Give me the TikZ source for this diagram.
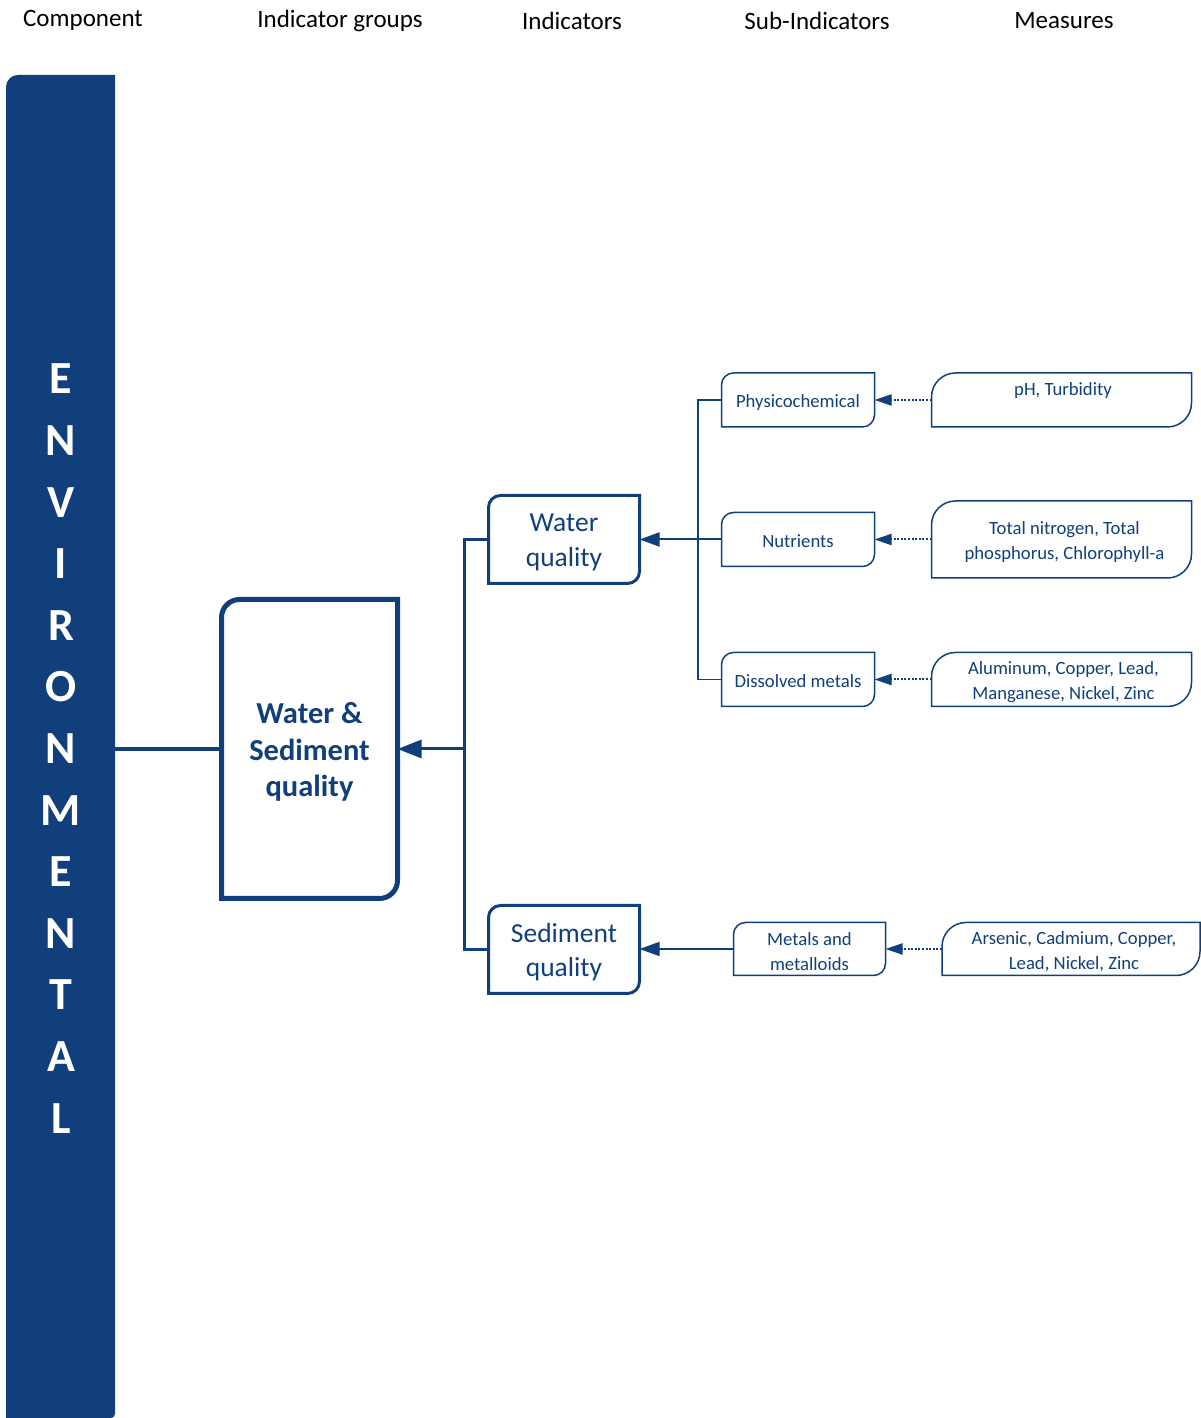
\documentclass[tikz,border=0pt]{standalone}
\usepackage{fontspec}
\setmainfont{Carlito}
\usetikzlibrary{arrows.meta,calc}
\definecolor{navy}{HTML}{103F7B}
\newcommand\diagframe[3]{%
  \draw[#3] (#1.south west) -- ([yshift=-#2pt]#1.north west) arc[start angle=180,end angle=90,radius=#2pt] -- (#1.north east) -- ([yshift=#2pt]#1.south east) arc[start angle=0,end angle=-90,radius=#2pt] -- cycle;}
\tikzset{
  frame/.style={draw=none,inner sep=0pt,outer sep=0pt},
  txt/.style={inner sep=0pt,outer sep=0pt,text=navy,align=center},
  hdr/.style={font=\fontsize{25}{30}\selectfont,text=black},
  bigtxt/.style={txt,font=\fontsize{30.5}{36.5}\bfseries\selectfont},
  midtxt/.style={txt,font=\fontsize{27.5}{34.5}\selectfont},
  smalltxt/.style={txt,font=\fontsize{18.7}{25}\selectfont},
  bigarrow/.style={-{Triangle[length=24pt,width=18pt]}},
  midarrow/.style={-{Triangle[length=20pt,width=14pt]}},
  smallarrow/.style={-{Triangle[length=17pt,width=11pt]}},
  dotline/.style={draw=navy,line width=2pt,dash pattern=on 2pt off 1.6pt,smallarrow},
}
\begin{document}
\begin{tikzpicture}[x=1pt,y=1pt]
\useasboundingbox (0,0) rectangle (1200,1418);
% headers
\node[hdr] (h1) at (83,1397.5) {Component};
\node[hdr] (h2) at (340,1397.5) {Indicator groups};
\node[hdr] (h3) at (572,1397.5) {Indicators};
\node[hdr] (h4) at (817,1397.5) {Sub-Indicators};
\node[hdr] (h5) at (1064,1397.5) {Measures};
% component bar
\node[frame,minimum width=109,minimum height=1343] (bar) at (60.5,671.5) {};
\fill[navy] (bar.south west) -- ([yshift=-12pt]bar.north west) arc[start angle=180,end angle=90,radius=12pt] -- (bar.north east) -- ([yshift=4pt]bar.south east) arc[start angle=0,end angle=-90,radius=4pt] -- cycle;
\node[text=white,align=center,font=\fontsize{46}{61.6}\bfseries\selectfont] (env) at (61,669.5) {E\\N\\V\\I\\R\\O\\N\\M\\E\\N\\T\\A\\L};
% indicator group
\node[frame,minimum width=176,minimum height=299] (wsq) at (309.5,669) {};
\diagframe{wsq}{18}{navy,line width=5pt}
\node[bigtxt] (wsqt) at ([yshift=-3pt]wsq.center) {Water \&\\Sediment\\quality};
% indicators
\node[frame,minimum width=151,minimum height=88] (wq) at (564,878.5) {};
\diagframe{wq}{12}{navy,line width=3pt}
\node[midtxt] (wqt) at ([yshift=-3pt]wq.center) {Water\\quality};
\node[frame,minimum width=151,minimum height=88] (sq) at (564,468.5) {};
\diagframe{sq}{12}{navy,line width=3pt}
\node[midtxt] (sqt) at ([yshift=-2.5pt]sq.center) {Sediment\\quality};
% sub-indicators
\node[frame,minimum width=153,minimum height=54] (phys) at (798,1018) {};
\diagframe{phys}{12}{navy,line width=1.5pt}
\node[smalltxt] (physt) at ([yshift=-2.5pt]phys.center) {Physicochemical};
\node[frame,minimum width=153,minimum height=54] (nut) at (798,878.5) {};
\diagframe{nut}{12}{navy,line width=1.5pt}
\node[smalltxt] (nutt) at ([yshift=-2pt]nut.center) {Nutrients};
\node[frame,minimum width=153,minimum height=54] (dis) at (798,738.5) {};
\diagframe{dis}{12}{navy,line width=1.5pt}
\node[smalltxt] (dist) at ([yshift=-2pt]dis.center) {Dissolved metals};
\node[frame,minimum width=152,minimum height=53] (met) at (809.5,469) {};
\diagframe{met}{12}{navy,line width=1.5pt}
\node[smalltxt] (mett) at ([yshift=-2.5pt]met.center) {Metals and\\metalloids};
% measures
\node[frame,minimum width=260,minimum height=54] (phm) at (1061.5,1018) {};
\diagframe{phm}{24}{navy,line width=1.5pt}
\node[smalltxt] (phmt) at (1063,1027.5) {pH, Turbidity};
\node[frame,minimum width=260,minimum height=77] (tnm) at (1061.5,878.5) {};
\diagframe{tnm}{24}{navy,line width=1.5pt}
\node[smalltxt] (tnmt) at ([yshift=-3pt,xshift=3pt]tnm.center) {Total nitrogen, Total\\phosphorus, Chlorophyll-a};
\node[frame,minimum width=260,minimum height=54] (alm) at (1061.5,738.5) {};
\diagframe{alm}{24}{navy,line width=1.5pt}
\node[smalltxt] (almt) at ([yshift=-2.5pt,xshift=2pt]alm.center) {Aluminum, Copper, Lead,\\Manganese, Nickel, Zinc};
\node[frame,minimum width=258,minimum height=53] (arm) at (1071,469) {};
\diagframe{arm}{24}{navy,line width=1.5pt}
\node[smalltxt] (armt) at ([yshift=-2.5pt,xshift=3pt]arm.center) {Arsenic, Cadmium, Copper,\\Lead, Nickel, Zinc};
% connectors
\coordinate (ta) at (464,0);
\coordinate (tb) at (698,0);
\draw[navy,line width=4pt] (bar.east |- wsq.west) -- (wsq.west);
\draw[navy,line width=3pt,bigarrow] (ta |- wsq.east) -- (wsq.east);
\draw[navy,line width=3pt] (wq.west) -| (ta |- sq.west) -- (sq.west);
\draw[navy,line width=2pt,midarrow] (nut.west) -- (wq.east);
\draw[navy,line width=1.8pt] (phys.west) -| (tb |- dis.west) -- (dis.west);
\draw[navy,line width=1.8pt,midarrow] (met.west) -- (met.west -| sq.east);
\draw[dotline] (phm.west) -- (phys.east);
\draw[dotline] (tnm.west) -- (nut.east);
\draw[dotline] (alm.west) -- (dis.east);
\draw[dotline] (arm.west) -- (met.east);
\end{tikzpicture}
\end{document}
